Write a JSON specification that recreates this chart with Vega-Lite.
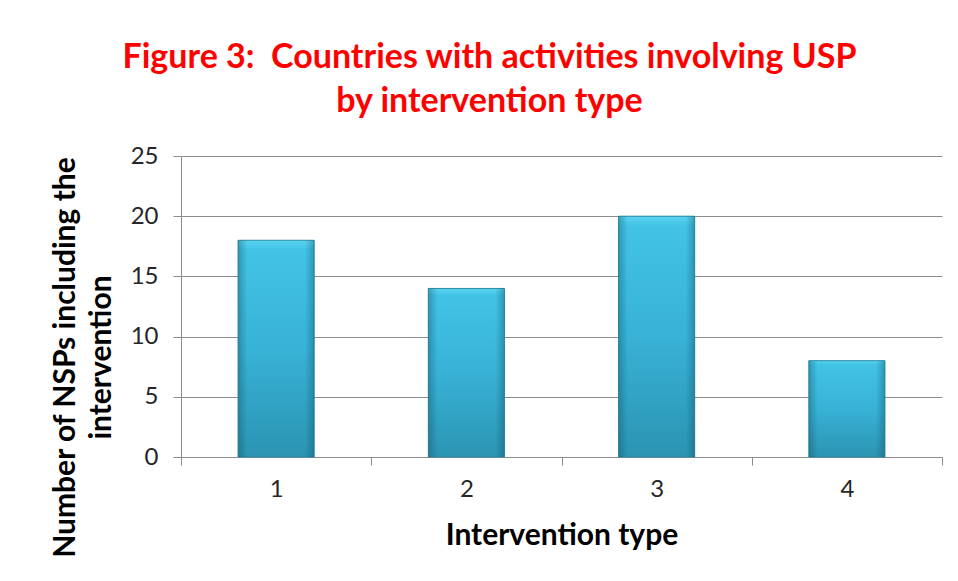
{
  "$schema": "https://vega.github.io/schema/vega-lite/v6.json",
  "width": 761,
  "height": 301,
  "autosize": {"type": "none"},
  "padding": {"left": 181, "top": 156, "right": 16, "bottom": 124},
  "background": "white",
  "title": {
    "text": ["Figure 3:\u00a0 Countries with activities involving USP", "by intervention type"],
    "color": "#ff0000",
    "font": "Lato",
    "fontSize": 34,
    "fontWeight": "bold",
    "anchor": "middle",
    "frame": "group",
    "dx": -72,
    "offset": 25,
    "lineHeight": 44
  },
  "config": {
    "view": {"stroke": null},
    "axis": {
      "labelFont": "Lato",
      "titleFont": "Lato",
      "labelColor": "#262626",
      "titleColor": "#000000",
      "domainColor": "#8c8c8c",
      "tickColor": "#8c8c8c",
      "gridColor": "#8c8c8c",
      "tickSize": 8
    }
  },
  "data": {
    "values": [
      {"type": "1", "value": 18},
      {"type": "2", "value": 14},
      {"type": "3", "value": 20},
      {"type": "4", "value": 8}
    ]
  },
  "encoding": {
    "x": {
      "field": "type",
      "type": "nominal",
      "scale": {"paddingInner": 0, "paddingOuter": 0},
      "axis": {
        "title": "Intervention type",
        "labelAngle": 0,
        "tickBand": "extent",
        "labelFontSize": 24,
        "labelPadding": 12,
        "titleFontSize": 30,
        "titleFontWeight": "bold",
        "titlePadding": 19,
        "grid": false
      }
    },
    "y": {
      "field": "value",
      "type": "quantitative",
      "scale": {"domain": [0, 25]},
      "axis": {
        "values": [0, 5, 10, 15, 20, 25],
        "title": ["Number of NSPs including the", "intervention"],
        "labelFontSize": 24,
        "labelPadding": 15,
        "titleFontSize": 30,
        "titleFontWeight": "bold",
        "titleAngle": -90,
        "titleAlign": "center",
        "titleBaseline": "middle",
        "titleX": -116,
        "titleY": 201,
        "titleLineHeight": 36,
        "grid": true
      }
    }
  },
  "layer": [
    {
      "mark": {
        "type": "bar",
        "width": {"band": 0.4},
        "stroke": "#2b8ba5",
        "strokeWidth": 1,
        "color": {
          "gradient": "linear",
          "x1": 0, "y1": 0, "x2": 0, "y2": 1,
          "stops": [
            {"offset": 0, "color": "#5ad4f2"},
            {"offset": 0.04, "color": "#42c3e6"},
            {"offset": 0.5, "color": "#38b2d6"},
            {"offset": 1, "color": "#2b94b2"}
          ]
        }
      }
    },
    {
      "mark": {
        "type": "bar",
        "width": {"band": 0.4},
        "color": {
          "gradient": "linear",
          "x1": 0, "y1": 0, "x2": 1, "y2": 0,
          "stops": [
            {"offset": 0, "color": "rgba(10,70,90,0.35)"},
            {"offset": 0.12, "color": "rgba(10,70,90,0)"},
            {"offset": 0.88, "color": "rgba(10,70,90,0)"},
            {"offset": 1, "color": "rgba(10,70,90,0.35)"}
          ]
        }
      }
    }
  ]
}
